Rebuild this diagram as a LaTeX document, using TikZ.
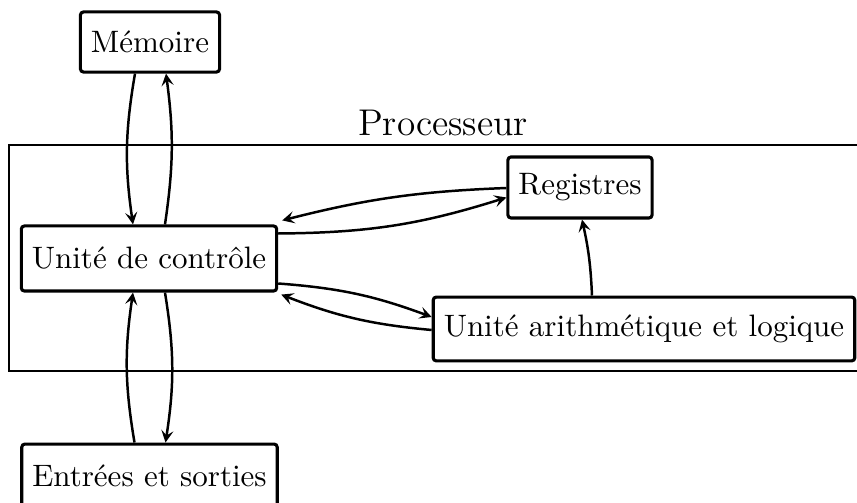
\documentclass[tikz,border=0pt]{standalone}
\usepackage{fontspec}
\usetikzlibrary{calc,arrows.meta}
\begin{document}
\begin{tikzpicture}[x=0.3226pt,y=-0.3226pt,
  box/.style={draw, line width=1pt, rounded corners=1pt, inner xsep=3.4pt},
  link/.style={-{Stealth[length=3.9pt,width=3.9pt,inset=1.6pt]}, line width=0.8pt},
  frame/.style={draw, line width=0.65pt, inner sep=0pt}]
\useasboundingbox (0,0) rectangle (857,503);
\clip (0,0) rectangle (857,503);
\node[frame, minimum width=280pt, minimum height=72.9pt] (proc) at (443,258) {};
\node (plabel) at (443,123) {\large Processeur};
\node[box, minimum height=19.4pt] (mem) at (150,42) {Mémoire};
\node[box, minimum height=21pt] (uc) at (149,258.5) {Unité de contrôle};
\node[box, minimum height=19.7pt] (reg) at (580,187.5) {Registres};
\node[box, minimum height=20.6pt] (alu) at (644,329) {Unité arithmétique et logique};
\node[box, minimum height=20.6pt] (io) at (149.5,476) {Entrées et sorties};
\draw[link] ($(mem.south)+(-15,0)$) to[bend right=9] ($(uc.north)+(-16,0)$);
\draw[link] ($(uc.north)+(16,0)$) to[bend right=8] ($(mem.south)+(16,0)$);
\draw[link] ($(uc.south)+(16,0)$) to[bend left=9] ($(io.north)+(16,0)$);
\draw[link] ($(io.north)+(-15,0)$) to[bend left=9] ($(uc.south)+(-16,0)$);
\draw[link] ($(uc.east)+(0,-25)$) to[bend right=8.5] ($(reg.west)+(0,10)$);
\draw[link] ($(reg.west)+(0,0.5)$) to[bend right=6] ($(uc.north east)+(4,-4)$);
\draw[link] ($(uc.east)+(0,25)$) to[bend left=8] ($(alu.west)+(0,-12)$);
\draw[link] ($(alu.west)+(0,1)$) to[bend left=8] ($(uc.south east)+(3,2)$);
\draw[link] ($(alu.north)+(-52,0)$) to[bend right=5] ($(reg.south)+(2,0)$);
\end{tikzpicture}
\end{document}
